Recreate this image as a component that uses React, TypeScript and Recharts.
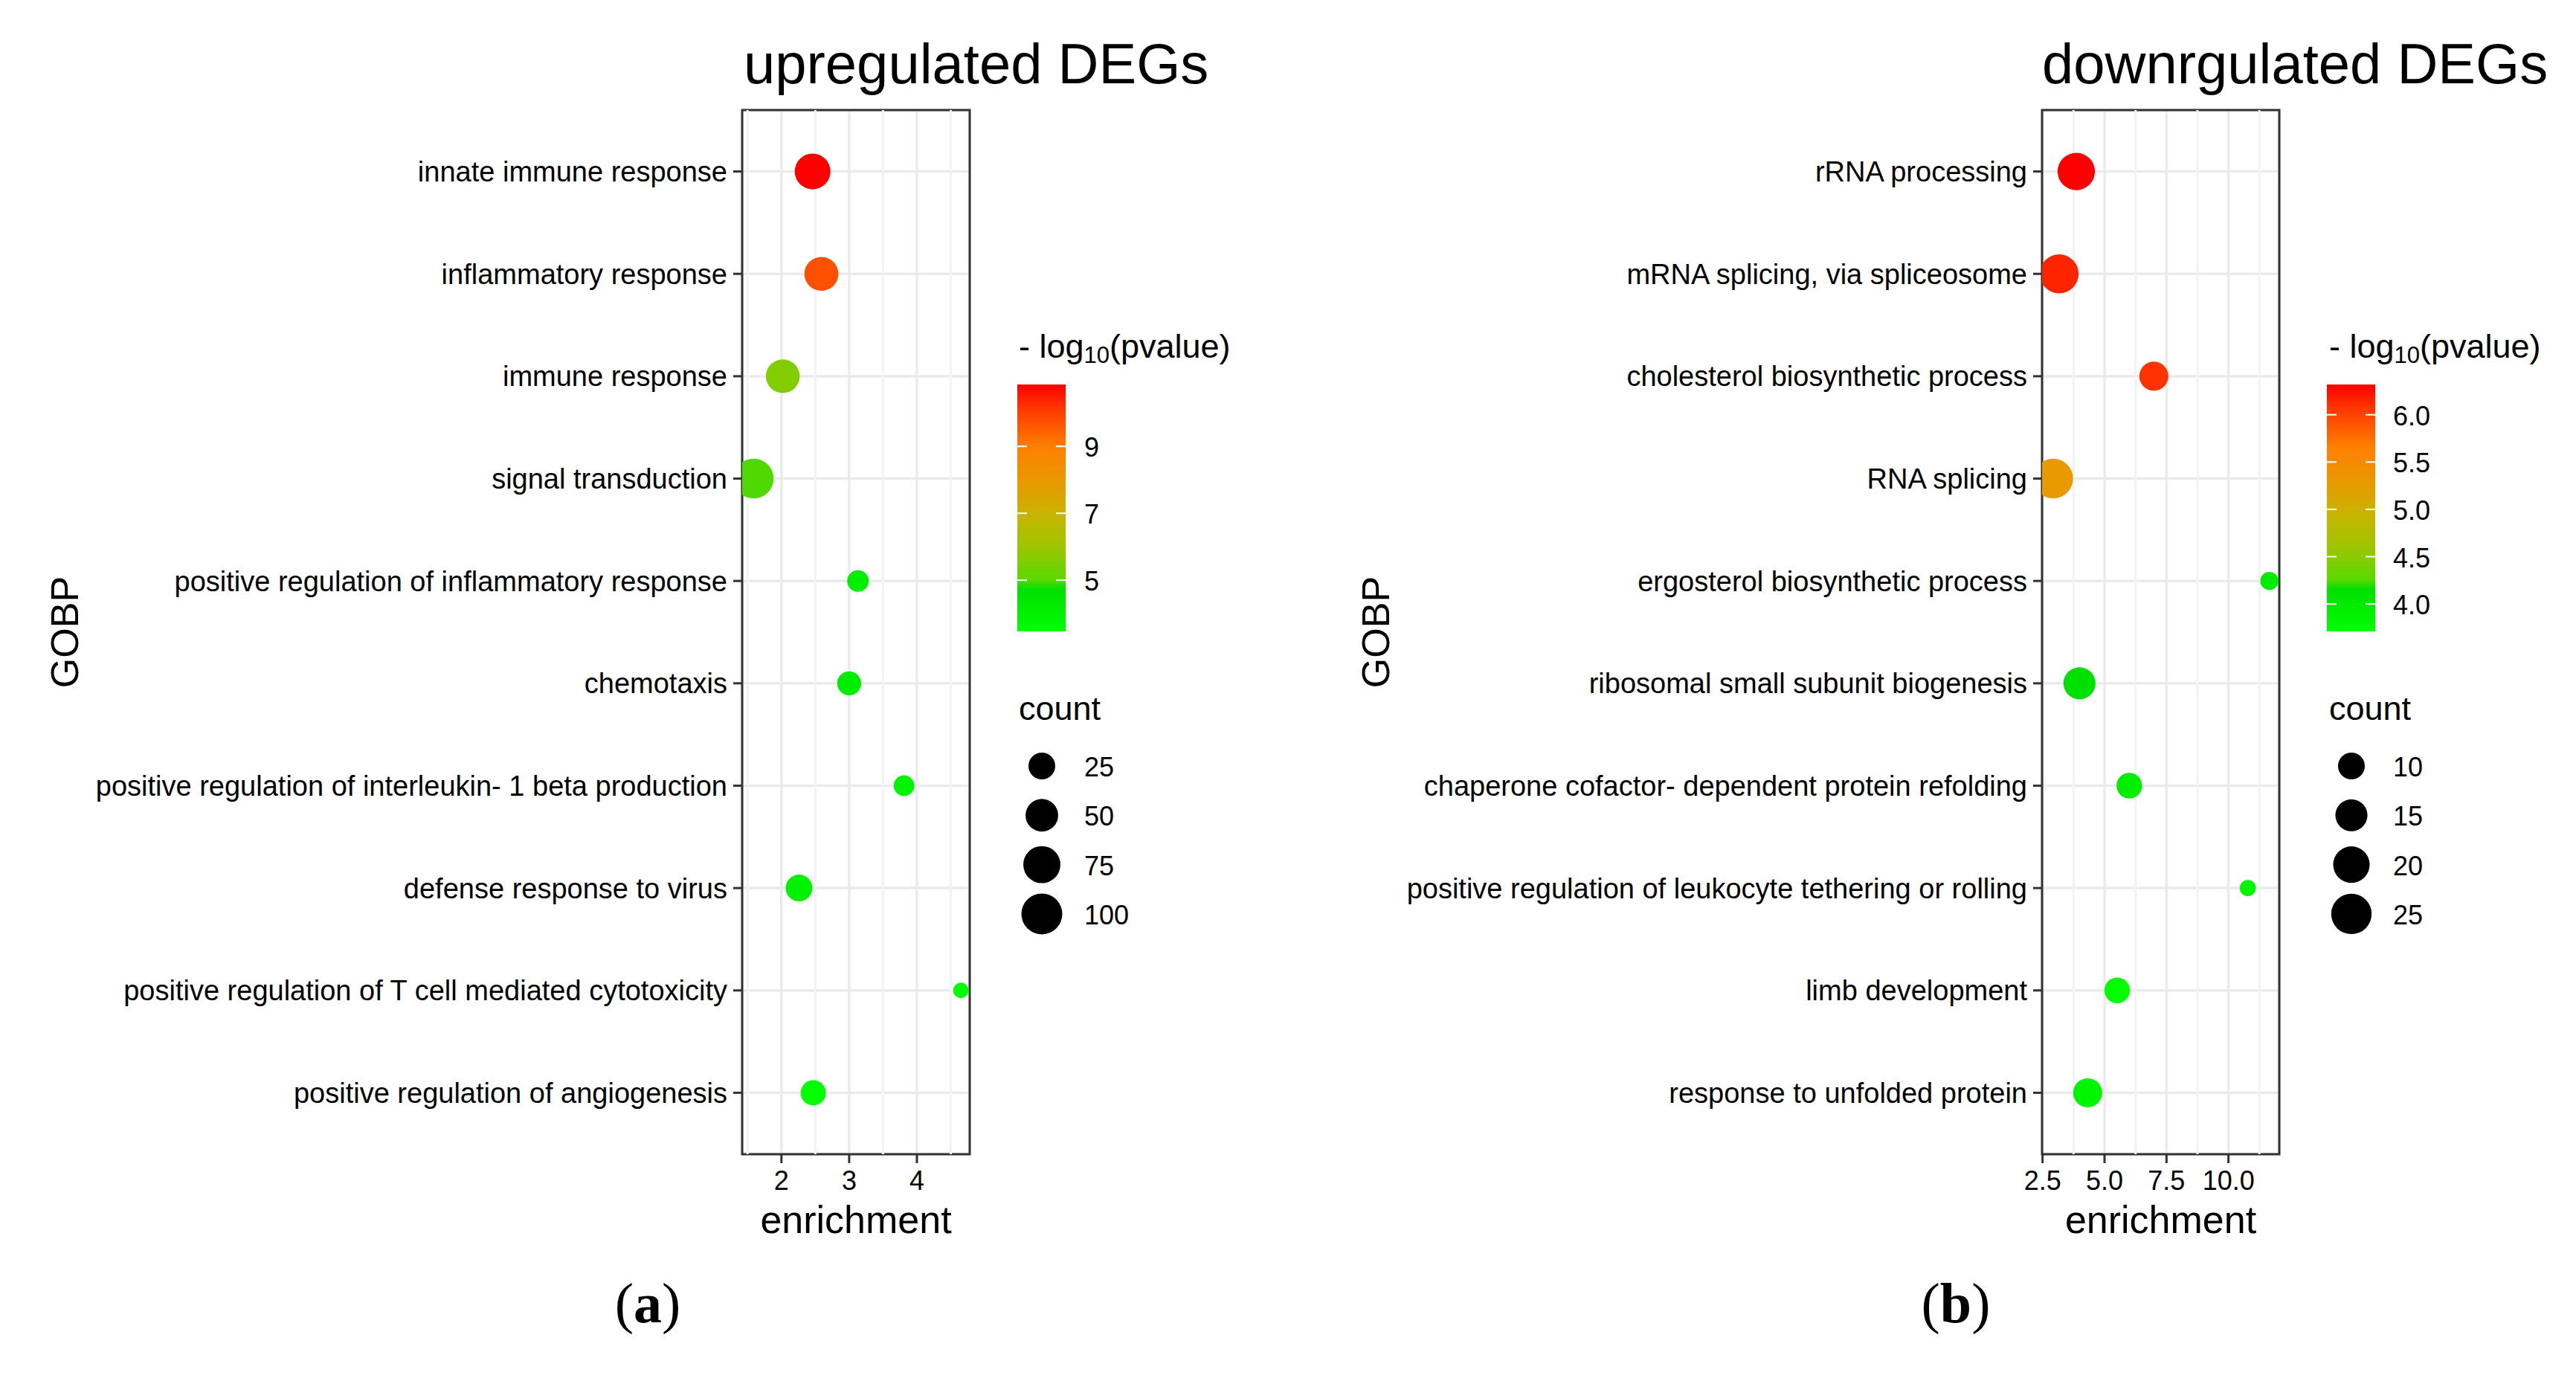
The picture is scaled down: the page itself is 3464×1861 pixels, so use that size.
import React from "react";
import {
  ScatterChart,
  Scatter,
  XAxis,
  YAxis,
  CartesianGrid,
  ReferenceLine,
  ReferenceArea,
  Label,
} from "recharts";

// ---- upregulated DEGs ----
const upTerms = [
  "innate immune response",
  "inflammatory response",
  "immune response",
  "signal transduction",
  "positive regulation of inflammatory response",
  "chemotaxis",
  "positive regulation of interleukin- 1 beta production",
  "defense response to virus",
  "positive regulation of T cell mediated cytotoxicity",
  "positive regulation of angiogenesis",
];
const upEnrichment = [2.46, 2.59, 2.02, 1.59, 3.13, 3.0, 3.81, 2.26, 4.65, 2.47];
const upCount = [67, 57, 56, 93, 10, 16, 8, 25, 1, 20];
const upLogP = [10.85, 9.75, 5.6, 4.98, 4.1, 4.2, 3.9, 4.0, 3.6, 3.47];
const upXTicks = [2, 3, 4];
const upXMinor = [1.5, 2.5, 3.5, 4.5];
const upColorTicks = [5, 7, 9];
const upSizeBreaks = [25, 50, 75, 100];

// ---- downregulated DEGs ----
const downTerms = [
  "rRNA processing",
  "mRNA splicing, via spliceosome",
  "cholesterol biosynthetic process",
  "RNA splicing",
  "ergosterol biosynthetic process",
  "ribosomal small subunit biogenesis",
  "chaperone cofactor- dependent protein refolding",
  "positive regulation of leukocyte tethering or rolling",
  "limb development",
  "response to unfolded protein",
];
const downEnrichment = [3.86, 3.17, 6.99, 2.93, 11.65, 3.99, 6.0, 10.78, 5.51, 4.32];
const downCount = [21, 23, 12, 24, 4, 15, 9, 3, 9, 12];
const downLogP = [6.32, 6.15, 6.08, 5.28, 3.97, 4.15, 3.95, 3.85, 3.71, 3.85];
const downXTicks = [2.5, 5, 7.5, 10];
const downXMinor = [3.75, 6.25, 8.75, 11.25];
const downColorTicks = [4, 4.5, 5, 5.5, 6];
const downSizeBreaks = [10, 15, 20, 25];

// colour ramp (relative position in the legend range -> colour)
const gradStops: [number, string][] = [
  [0, "#00FF00"],
  [0.17, "#00E000"],
  [0.21, "#5CD800"],
  [0.35, "#A0C400"],
  [0.474, "#C8B400"],
  [0.6, "#E89A00"],
  [0.745, "#FF8000"],
  [0.9, "#FF3800"],
  [1, "#FF0000"],
];

const FONT = "'Liberation Sans', Arial, Helvetica, sans-serif";
const PLOT_TOP = 148;
const PLOT_BOTTOM = 1552;
const CHART_H = 1700;

function hexToRgb(h: string) {
  const n = parseInt(h.slice(1), 16);
  return [(n >> 16) & 255, (n >> 8) & 255, n & 255];
}

function rampColor(t: number) {
  const v = Math.max(0, Math.min(1, t));
  for (let i = 1; i < gradStops.length; i++) {
    const [o1, c1] = gradStops[i - 1];
    const [o2, c2] = gradStops[i];
    if (v <= o2) {
      const k = (v - o1) / (o2 - o1 || 1);
      const a = hexToRgb(c1);
      const b = hexToRgb(c2);
      const m = a.map((x, j) => Math.round(x + (b[j] - x) * k));
      return `rgb(${m[0]},${m[1]},${m[2]})`;
    }
  }
  return gradStops[gradStops.length - 1][1];
}

interface PanelProps {
  left: number;
  width: number;
  yWidth: number;
  terms: string[];
  enrichment: number[];
  counts: number[];
  logp: number[];
  xDomain: [number, number];
  xTicks: number[];
  xMinor: number[];
  xFmt: (v: number) => string;
  rA: number;
  rB: number;
  gobpX: number;
}

function Panel({
  left,
  width,
  yWidth,
  terms,
  enrichment,
  counts,
  logp,
  xDomain,
  xTicks,
  xMinor,
  xFmt,
  rA,
  rB,
  gobpX,
}: PanelProps) {
  const lo = Math.min(...logp);
  const hi = Math.max(...logp);
  const rows = terms.map((term, i) => ({
    term,
    rank: i + 1,
    enrichment: enrichment[i],
    count: counts[i],
    logp: logp[i],
  }));
  const ranks = rows.map((r) => r.rank);

  const dot = (p: any) => {
    const d = p.payload;
    return (
      <circle
        cx={p.cx}
        cy={p.cy}
        r={rA + rB * Math.sqrt(d.count)}
        fill={rampColor((d.logp - lo) / (hi - lo))}
      />
    );
  };

  return (
    <div style={{ position: "absolute", left, top: 0 }}>
      <ScatterChart
        width={width}
        height={CHART_H}
        margin={{ top: PLOT_TOP, right: 15, bottom: 0, left: 0 }}
      >
        <CartesianGrid stroke="#EBEBEB" strokeWidth={3.5} />
        {xMinor.map((v) => (
          <ReferenceLine key={v} x={v} stroke="#F3F3F3" strokeWidth={3} />
        ))}
        <XAxis
          type="number"
          dataKey="enrichment"
          domain={xDomain}
          ticks={xTicks}
          allowDataOverflow
          tickFormatter={xFmt}
          height={CHART_H - PLOT_BOTTOM}
          axisLine={false}
          tickLine={{ stroke: "#333", strokeWidth: 3 }}
          tickSize={12}
          tickMargin={10}
          tick={{ fill: "#000", fontSize: 36 }}
        >
          <Label
            content={(p: any) => {
              const vb = p.viewBox;
              return (
                <text
                  x={vb.x + vb.width / 2}
                  y={vb.y + 106}
                  textAnchor="middle"
                  fontSize={52}
                  fill="#000"
                >
                  enrichment
                </text>
              );
            }}
          />
        </XAxis>
        <YAxis
          type="number"
          dataKey="rank"
          domain={[0.4, 10.6]}
          reversed
          ticks={ranks}
          interval={0}
          tickFormatter={(v: number) => terms[v - 1]}
          width={yWidth}
          axisLine={false}
          tickLine={{ stroke: "#333", strokeWidth: 3 }}
          tickSize={12}
          tickMargin={8}
          tick={{ fill: "#000", fontSize: 38 }}
        >
          <Label
            content={(p: any) => {
              const vb = p.viewBox;
              return (
                <text
                  transform={`translate(${vb.x + gobpX}, ${vb.y + vb.height / 2}) rotate(-90)`}
                  textAnchor="middle"
                  fontSize={52}
                  fill="#000"
                >
                  GOBP
                </text>
              );
            }}
          />
        </YAxis>
        <Scatter data={rows} shape={dot} isAnimationActive={false} />
        <ReferenceArea
          x1={xDomain[0]}
          x2={xDomain[1]}
          y1={0.4}
          y2={10.6}
          fill="none"
          stroke="#333"
          strokeWidth={3}
        />
      </ScatterChart>
    </div>
  );
}

interface LegendProps {
  x: number;
  barX: number;
  labelX: number;
  circleX: number;
  logp: number[];
  colorTicks: number[];
  colorFmt: (v: number) => string;
  sizeBreaks: number[];
  rA: number;
  rB: number;
  gradId: string;
}

function Legend({
  x,
  barX,
  labelX,
  circleX,
  logp,
  colorTicks,
  colorFmt,
  sizeBreaks,
  rA,
  rB,
  gradId,
}: LegendProps) {
  const lo = Math.min(...logp);
  const hi = Math.max(...logp);
  const barTop = 517;
  const barH = 332;
  const barW = 65;
  const toY = (v: number) => barTop + barH - ((v - lo) / (hi - lo)) * barH;
  return (
    <g>
      <defs>
        <linearGradient id={gradId} x1="0" y1="1" x2="0" y2="0">
          {gradStops.map(([o, c]) => (
            <stop key={o} offset={o} stopColor={c} />
          ))}
        </linearGradient>
      </defs>
      <text x={x} y={481} fontSize={45} fill="#000">
        - log<tspan fontSize={31} dy={7}>10</tspan>
        <tspan dy={-7}>(pvalue)</tspan>
      </text>
      <rect x={barX} y={barTop} width={barW} height={barH} fill={`url(#${gradId})`} />
      {colorTicks.map((v) => (
        <g key={v}>
          <line x1={barX} x2={barX + 13} y1={toY(v)} y2={toY(v)} stroke="#fff" strokeWidth={2} />
          <line
            x1={barX + barW - 13}
            x2={barX + barW}
            y1={toY(v)}
            y2={toY(v)}
            stroke="#fff"
            strokeWidth={2}
          />
          <text x={labelX} y={toY(v) + 14} fontSize={36} fill="#000">
            {colorFmt(v)}
          </text>
        </g>
      ))}
      <text x={x} y={968} fontSize={45} fill="#000">
        count
      </text>
      {sizeBreaks.map((c, i) => {
        const cy = 1030 + i * 66.3;
        return (
          <g key={c}>
            <circle cx={circleX} cy={cy} r={rA + rB * Math.sqrt(c)} fill="#000" />
            <text x={labelX} y={cy + 14} fontSize={36} fill="#000">
              {c}
            </text>
          </g>
        );
      })}
    </g>
  );
}

export default function App() {
  return (
    <div
      style={{
        position: "relative",
        width: 3464,
        height: 1861,
        background: "#fff",
        fontFamily: FONT,
        overflow: "hidden",
      }}
    >
      <style>{"body{margin:0}"}</style>
      <Panel
        left={0}
        width={1319}
        yWidth={998}
        terms={upTerms}
        enrichment={upEnrichment}
        counts={upCount}
        logp={upLogP}
        xDomain={[1.42, 4.78]}
        xTicks={upXTicks}
        xMinor={upXMinor}
        xFmt={(v) => String(v)}
        rA={8.5}
        rB={1.9}
        gobpX={105}
      />
      <Panel
        left={1800}
        width={1280}
        yWidth={946}
        terms={downTerms}
        enrichment={downEnrichment}
        counts={downCount}
        logp={downLogP}
        xDomain={[2.48, 12.05]}
        xTicks={downXTicks}
        xMinor={downXMinor}
        xFmt={(v) => v.toFixed(1)}
        rA={2.2}
        rB={5}
        gobpX={68}
      />
      <svg
        width={3464}
        height={1861}
        style={{ position: "absolute", left: 0, top: 0, pointerEvents: "none" }}
        fontFamily={FONT}
      >
        <text x={1000} y={112} fontSize={76} fill="#000">
          upregulated DEGs
        </text>
        <text x={2746} y={112} fontSize={76} fill="#000">
          downrgulated DEGs
        </text>
        <Legend
          x={1370}
          barX={1368}
          labelX={1458}
          circleX={1401}
          logp={upLogP}
          colorTicks={upColorTicks}
          colorFmt={(v) => String(v)}
          sizeBreaks={upSizeBreaks}
          rA={8.5}
          rB={1.9}
          gradId="gradUp"
        />
        <Legend
          x={3132}
          barX={3129}
          labelX={3218}
          circleX={3162}
          logp={downLogP}
          colorTicks={downColorTicks}
          colorFmt={(v) => v.toFixed(1)}
          sizeBreaks={downSizeBreaks}
          rA={2.2}
          rB={5}
          gradId="gradDown"
        />
        <text
          x={871}
          y={1778}
          fontSize={76}
          textAnchor="middle"
          fontFamily="'Liberation Serif', 'Times New Roman', serif"
          fill="#000"
        >
          (<tspan fontWeight="bold">a</tspan>)
        </text>
        <text
          x={2630}
          y={1778}
          fontSize={76}
          textAnchor="middle"
          fontFamily="'Liberation Serif', 'Times New Roman', serif"
          fill="#000"
        >
          (<tspan fontWeight="bold">b</tspan>)
        </text>
      </svg>
    </div>
  );
}
